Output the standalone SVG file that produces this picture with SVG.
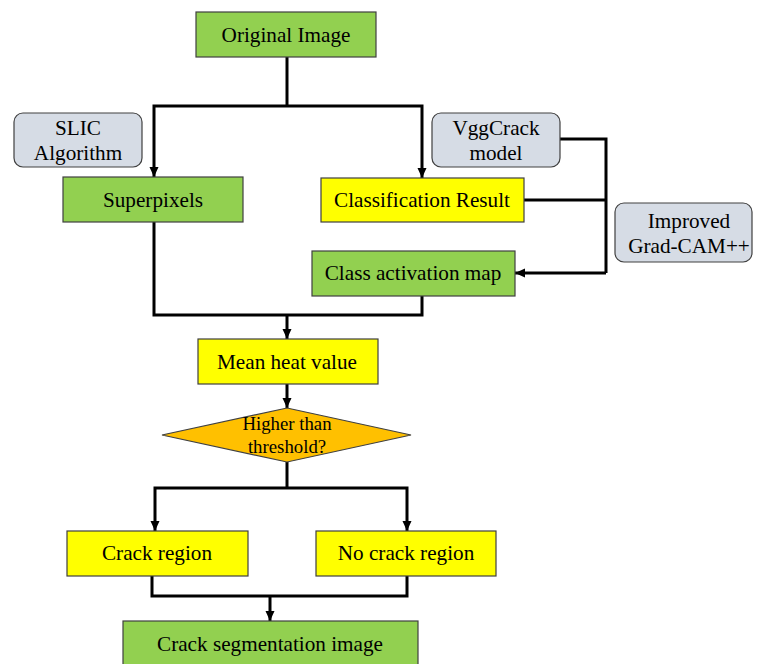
<svg xmlns="http://www.w3.org/2000/svg" width="757" height="664" viewBox="0 0 757 664">
<defs>
<marker id="ah" viewBox="0 0 10 9" refX="10" refY="4.5" markerWidth="3.4" markerHeight="3.06" orient="auto" markerUnits="strokeWidth">
<path d="M0,0 L10,4.5 L0,9 z" fill="#000"/>
</marker>
<style>
.g{fill:#92D050;stroke:#404040;stroke-width:1.2}
.y{fill:#FFFF00;stroke:#404040;stroke-width:1.2}
.s{fill:#D6DCE5;stroke:#404040;stroke-width:1.2}
.o{fill:#FFC000;stroke:#404040;stroke-width:1.2}
text{font-family:"Liberation Serif","Times New Roman",serif;font-size:21.2px;fill:#000;text-anchor:middle}
.sm{font-size:18.8px}
.c{fill:none;stroke:#000;stroke-width:3}
.a{fill:none;stroke:#000;stroke-width:3;marker-end:url(#ah)}
</style>
</defs>
<rect width="757" height="664" fill="#fff"/>
<g id="connectors">
<path class="c" d="M287,57 V106"/>
<path class="a" d="M287,106 H154 V177"/>
<path class="a" d="M287,106 H422 V178"/>
<path class="c" d="M560,139 H606 V273"/>
<path class="c" d="M524,200 H606"/>
<path class="a" d="M606,273 H515"/>
<path class="c" d="M154,222 V315 H422 V296"/>
<path class="a" d="M287,315 V339"/>
<path class="a" d="M287,384 V408"/>
<path class="c" d="M287,462 V488"/>
<path class="a" d="M287,488 H155 V531"/>
<path class="a" d="M287,488 H407 V531"/>
<path class="c" d="M152,576 V596 H407 V576"/>
<path class="a" d="M270,596 V621"/>
</g>
<g id="original-image"><rect class="g" x="196" y="12" width="180" height="45"/><text x="286" y="42">Original Image</text></g>
<g id="slic"><rect class="s" x="14" y="113" width="128" height="54" rx="9"/><text x="78" y="135">SLIC</text><text x="78" y="160">Algorithm</text></g>
<g id="vggcrack"><rect class="s" x="432" y="113" width="128" height="54" rx="9"/><text x="496" y="135">VggCrack</text><text x="496" y="160">model</text></g>
<g id="superpixels"><rect class="g" x="63" y="177" width="180" height="45"/><text x="153" y="207">Superpixels</text></g>
<g id="classification"><rect class="y" x="321" y="178" width="203" height="44"/><text x="422" y="207">Classification Result</text></g>
<g id="gradcam"><rect class="s" x="615" y="203" width="137" height="59" rx="9"/><text x="689" y="228">Improved</text><text x="689" y="253">Grad-CAM++</text></g>
<g id="cam"><rect class="g" x="312" y="251" width="203" height="45"/><text x="413" y="280">Class activation map</text></g>
<g id="mean-heat"><rect class="y" x="198" y="339" width="180" height="45"/><text x="287" y="369">Mean heat value</text></g>
<g id="threshold"><polygon class="o" points="287,408 411,435 287,462 162,435"/><text class="sm" x="287" y="430">Higher than</text><text class="sm" x="287" y="453">threshold?</text></g>
<g id="crack"><rect class="y" x="67" y="531" width="181" height="45"/><text x="157" y="560">Crack region</text></g>
<g id="no-crack"><rect class="y" x="316" y="531" width="180" height="45"/><text x="406" y="560">No crack region</text></g>
<g id="segmentation"><rect class="g" x="123" y="621" width="295" height="50"/><text x="270" y="651">Crack segmentation image</text></g>
</svg>
